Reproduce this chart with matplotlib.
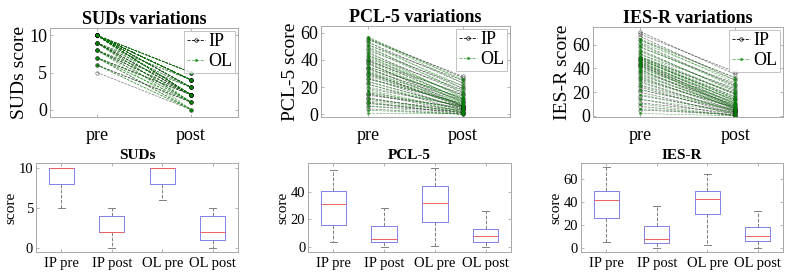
import numpy as np
from matplotlib import pyplot as plt

# per-subject scores, pre / post, for the two groups (IP, OL)
suds_ip_pre = [5, 6, 6, 7, 7, 7, 8, 8, 8, 8, 9, 9, 9, 9, 9, 9,
               10, 10, 10, 10, 10, 10, 10, 10, 10, 10, 10, 10, 10, 10, 10, 10, 10]
suds_ip_post = [0, 1, 1, 2, 0, 2, 1, 2, 3, 2, 1, 2, 3, 2, 4, 2,
                2, 3, 5, 4, 2, 4, 3, 4, 2, 5, 4, 3, 4, 2, 4, 5, 3]
suds_ol_pre = [6, 6, 7, 7, 7, 7, 8, 8, 8, 8, 9, 9, 9, 9, 9, 9,
               10, 10, 10, 10, 10, 10, 10, 10, 10, 10, 10, 10, 10, 10, 10, 10, 10]
suds_ol_post = [0, 0, 1, 0, 2, 1, 0, 3, 1, 2, 0, 1, 2, 4, 1, 3,
                2, 4, 1, 3, 2, 5, 4, 2, 3, 4, 2, 4, 5, 3, 4, 5, 4]

pcl_ip_pre = [4, 6, 8, 9, 11, 12, 14, 15, 16, 19, 22, 24, 26, 27, 29, 30,
              31, 33, 34, 35, 37, 38, 39, 40, 41, 43, 45, 47, 49, 51, 53, 55, 56]
pcl_ip_post = [0, 2, 1, 0, 3, 1, 5, 2, 4, 6, 3, 5, 8, 4, 6, 7,
               5, 10, 6, 12, 9, 6, 15, 11, 14, 18, 16, 21, 19, 25, 23, 28, 27]
pcl_ol_pre = [1, 3, 6, 8, 10, 12, 15, 17, 18, 20, 22, 24, 26, 28, 30, 31,
              32, 34, 35, 37, 39, 40, 42, 43, 44, 46, 48, 50, 51, 53, 55, 56, 57]
pcl_ol_post = [1, 0, 0, 3, 2, 1, 4, 2, 3, 6, 5, 5, 8, 7, 6, 9,
               7, 8, 12, 10, 9, 11, 14, 10, 13, 12, 17, 16, 21, 19, 26, 23, 25]

ies_ip_pre = [5, 8, 11, 14, 17, 20, 22, 24, 26, 29, 31, 33, 35, 37, 39, 41,
              42, 43, 44, 45, 46, 47, 48, 49, 50, 52, 55, 58, 61, 64, 67, 69, 71]
ies_ip_post = [1, 0, 2, 0, 3, 1, 4, 2, 5, 3, 7, 4, 6, 9, 5, 8,
               11, 6, 13, 7, 10, 16, 14, 19, 18, 23, 21, 27, 25, 32, 30, 37, 35]
ies_ol_pre = [2, 6, 10, 14, 18, 22, 25, 28, 30, 32, 34, 36, 38, 39, 40, 42,
              43, 44, 45, 46, 47, 48, 49, 49, 50, 52, 54, 56, 58, 60, 62, 64, 65]
ies_ol_post = [0, 1, 0, 3, 2, 5, 4, 4, 7, 6, 8, 6, 9, 7, 11, 8,
               10, 9, 13, 12, 15, 12, 16, 14, 19, 18, 22, 20, 26, 24, 30, 28, 32]

box_labels = ['IP pre', 'IP post', 'OL pre', 'OL post']

plt.rcParams['font.family'] = ['Liberation Serif', 'DejaVu Serif']
GRAY = '#a8a8a8'
GREEN = (0, 0.5, 0)

fig = plt.figure(figsize=(7.88, 2.76), dpi=100)

def style_axes(ax, fs, xpad):
    for s in ax.spines.values():
        s.set_color(GRAY)
        s.set_linewidth(0.7)
    ax.tick_params(direction='in', top=True, right=True, length=2.5,
                   width=0.6, color=GRAY, labelsize=fs, pad=2)
    ax.tick_params(axis='x', pad=xpad)

def plot_var(rect, ip_pre, ip_post, ol_pre, ol_post, title, ylabel, ylim, yticks):
    ax = fig.add_axes(rect)
    for a, b in zip(ip_pre, ip_post):
        ax.plot([1, 2], [a, b], 'o--', color='k', mfc='none', ms=2.5,
                lw=0.5, mew=0.5, alpha=0.55)
    for a, b in zip(ol_pre, ol_post):
        ax.plot([1, 2], [a, b], '.--', color=GREEN, ms=2.5, lw=0.5, alpha=0.55)
    ax.set_xlim(0.5, 2.5)
    ax.set_ylim(*ylim)
    ax.set_yticks(yticks)
    ax.set_xticks([1, 2])
    ax.set_xticklabels(['pre', 'post'])
    ax.set_title(title, fontsize=13, fontweight='bold', pad=3)
    ax.set_ylabel(ylabel, fontsize=14, labelpad=1)
    style_axes(ax, 13, 7)
    h1, = ax.plot([], [], 'o--', color='k', mfc='none', ms=2.5, lw=0.6, mew=0.5)
    h2, = ax.plot([], [], '.--', color=GREEN, ms=2.5, lw=0.6, alpha=0.6)
    leg = ax.legend([h1, h2], ['IP', 'OL'], loc='upper right', fontsize=13,
                    handlelength=1.0, handletextpad=0.2, borderpad=0.15,
                    labelspacing=0.15, fancybox=False, borderaxespad=0.15)
    leg.get_frame().set_edgecolor(GRAY)
    leg.get_frame().set_linewidth(0.6)

def plot_box(rect, data, title, ylim, yticks):
    ax = fig.add_axes(rect)
    ax.boxplot(data, widths=0.5, showfliers=False, capwidths=0.14,
               boxprops=dict(color='#8080e8', lw=0.7),
               medianprops=dict(color='#f06060', lw=0.7),
               whiskerprops=dict(color='#808080', lw=0.7, ls='--'),
               capprops=dict(color='#808080', lw=0.7))
    ax.set_xlim(0.5, 4.5)
    ax.set_ylim(*ylim)
    ax.set_yticks(yticks)
    ax.set_xticks([1, 2, 3, 4])
    ax.set_xticklabels(box_labels)
    ax.set_title(title, fontsize=11, fontweight='bold', pad=3)
    ax.set_ylabel('score', fontsize=11, labelpad=1)
    style_axes(ax, 10.5, 3.5)

plot_var([0.0635, 0.576, 0.2386, 0.3225], suds_ip_pre, suds_ip_post,
         suds_ol_pre, suds_ol_post, 'SUDs variations', 'SUDs score',
         (-1, 11), [0, 5, 10])
plot_var([0.4074, 0.576, 0.2398, 0.33], pcl_ip_pre, pcl_ip_post,
         pcl_ol_pre, pcl_ol_post, 'PCL-5 variations', 'PCL-5 score',
         (-2, 65), [0, 20, 40, 60])
plot_var([0.7525, 0.576, 0.2411, 0.326], ies_ip_pre, ies_ip_post,
         ies_ol_pre, ies_ol_post, 'IES-R variations', 'IES-R score',
         (-1, 75), [0, 20, 40, 60])

plot_box([0.0457, 0.087, 0.2563, 0.3225],
         [suds_ip_pre, suds_ip_post, suds_ol_pre, suds_ol_post], 'SUDs',
         (-0.5, 10.6), [0, 5, 10])
plot_box([0.3909, 0.087, 0.2576, 0.3225],
         [pcl_ip_pre, pcl_ip_post, pcl_ol_pre, pcl_ol_post], 'PCL-5',
         (-3.6, 61), [0, 20, 40])
plot_box([0.7373, 0.087, 0.2563, 0.3225],
         [ies_ip_pre, ies_ip_post, ies_ol_pre, ies_ol_post], 'IES-R',
         (-3.8, 74.4), [0, 20, 40, 60])

plt.savefig('out.png', dpi=100)
